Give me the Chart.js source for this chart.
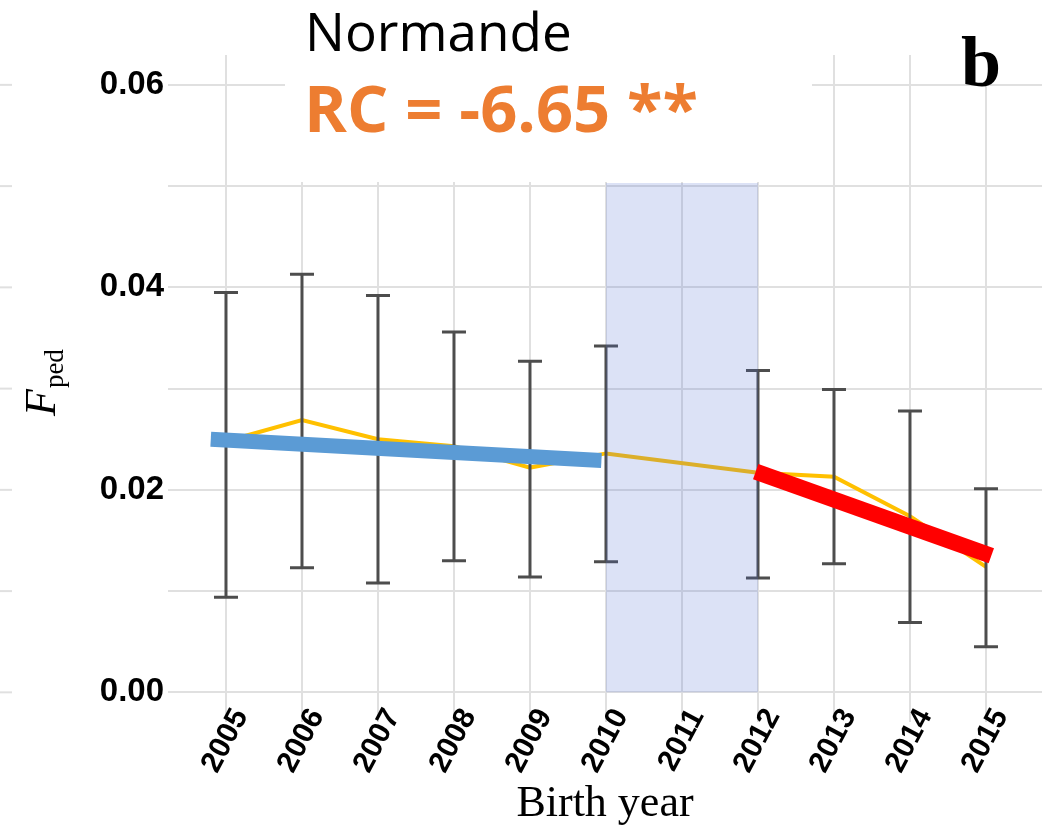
<!DOCTYPE html>
<html>
<head>
<meta charset="utf-8">
<script src="https://cdn.jsdelivr.net/npm/chart.js@4.4.1/dist/chart.umd.min.js"></script>
<style>
  html, body { margin: 0; padding: 0; background: #fff; }
  #wrap { width: 1042px; height: 832px; }
</style>
</head>
<body>
<div id="wrap"><canvas id="chart" width="1042" height="832"></canvas></div>
<script>
// Birth years on the x axis
const years = [2005, 2006, 2007, 2008, 2009, 2010, 2011, 2012, 2013, 2014, 2015];
// Mean pedigree inbreeding per year (2011 has no point of its own)
const fped = [0.0248, 0.0269, 0.0250, 0.0243, 0.0222, 0.0236, null, 0.0217, 0.0213, 0.0174, 0.0124];
// Error bar ends
const upper = [0.0395, 0.0413, 0.0392, 0.0356, 0.0327, 0.0342, null, 0.0318, 0.0299, 0.0278, 0.0201];
const lower = [0.0094, 0.0123, 0.0108, 0.0130, 0.0114, 0.0129, null, 0.0113, 0.0127, 0.0069, 0.0045];
// Trend segments
const blueX = [2004.80, 2009.94];
const blueY = [0.0250, 0.0229];
const redX = [2011.97, 2015.07];
const redY = [0.0218, 0.0135];
// Shaded period
const shadeX = [2010, 2012];
const shadeTop = [0.0503, 0.0503];
// Labelled y ticks
const yTickLabels = ['0.00', '0.02', '0.04', '0.06'];
// Texts
const breedName = 'Normande';
const rcText = 'RC = -6.65 **';
const panelLetter = 'b';
const xTitle = 'Birth year';

const gridColor = '#e0e0e0';

// pairs x/y arrays into points
function toPoints(xs, ys) {
    return xs.map((v, i) => ({ x: v, y: ys[i] }));
}

// vertical grid runs a bit below the plot, under the year labels
const gridTail = {
    id: 'gridTail',
    beforeDraw(chart) {
        const { ctx, chartArea, scales: { x } } = chart;
        ctx.save();
        ctx.strokeStyle = gridColor;
        ctx.lineWidth = 2;
        x.ticks.forEach(t => {
            const px = x.getPixelForValue(t.value);
            ctx.beginPath();
            ctx.moveTo(px, chartArea.bottom); ctx.lineTo(px, 722);
            ctx.stroke();
        });
        ctx.restore();
    }
};

// draws the whiskers right after the yellow line
const errorBars = {
    id: 'errorBars',
    afterDatasetDraw(chart, args) {
        if (args.index !== 0) return;
        const { ctx, scales: { x, y } } = chart;
        ctx.save();
        ctx.strokeStyle = '#4d4d4d';
        ctx.lineWidth = 3;
        years.forEach((yr, i) => {
            if (upper[i] == null) return;
            const px = x.getPixelForValue(yr);
            const top = y.getPixelForValue(upper[i]);
            const bot = y.getPixelForValue(lower[i]);
            ctx.beginPath();
            ctx.moveTo(px, top); ctx.lineTo(px, bot);
            ctx.moveTo(px - 12, top); ctx.lineTo(px + 12, top);
            ctx.moveTo(px - 12, bot); ctx.lineTo(px + 12, bot);
            ctx.stroke();
        });
        ctx.restore();
    }
};

// titles, panel letter, y axis title and the small stubs on the left
const decor = {
    id: 'decor',
    afterDraw(chart) {
        const { ctx, scales: { y } } = chart;
        ctx.save();

        // stubs from the neighbouring panel
        ctx.strokeStyle = gridColor;
        ctx.lineWidth = 2;
        y.ticks.forEach(t => {
            const py = y.getPixelForValue(t.value);
            ctx.beginPath();
            ctx.moveTo(0, py); ctx.lineTo(12, py);
            ctx.stroke();
        });

        // white boxes behind the texts
        ctx.fillStyle = '#fff';
        ctx.fillRect(285, 0, 527, 182);
        ctx.fillRect(950, 0, 60, 83);

        ctx.textBaseline = 'alphabetic';
        ctx.textAlign = 'left';
        ctx.fillStyle = '#000';
        ctx.font = '53px "Open Sans"';
        ctx.fillText(breedName, 305, 51);

        ctx.fillStyle = '#ED7D31';
        ctx.font = 'bold 65px "Open Sans"';
        ctx.fillText(rcText, 304, 132);

        ctx.fillStyle = '#000';
        ctx.font = 'bold 72px "Liberation Serif"';
        ctx.fillText(panelLetter, 961, 86);

        // F_ped, rotated
        ctx.translate(55, 416);
        ctx.rotate(-Math.PI / 2);
        ctx.font = 'italic 44px "Liberation Serif"';
        ctx.fillText('F', 0, 0);
        const w = ctx.measureText('F').width;
        ctx.font = '27px "Liberation Serif"';
        ctx.fillText('ped', w + 1, 8);
        ctx.restore();
    }
};

new Chart(document.getElementById('chart'), {
    type: 'line',
    data: {
        datasets: [
            {
                label: 'Fped',
                data: toPoints(years, fped),
                borderColor: '#FFC000',
                borderWidth: 4,
                pointRadius: 0,
                spanGaps: true,
                tension: 0,
                order: 3
            },
            {
                label: 'shade',
                data: toPoints(shadeX, shadeTop),
                borderWidth: 0,
                backgroundColor: 'rgba(80,110,210,0.2)',
                fill: 'origin',
                pointRadius: 0,
                order: 2
            },
            {
                label: 'trend before',
                data: toPoints(blueX, blueY),
                borderColor: '#5B9BD5',
                borderWidth: 15,
                borderCapStyle: 'butt',
                pointRadius: 0,
                order: 1
            },
            {
                label: 'trend after',
                data: toPoints(redX, redY),
                borderColor: '#FF0000',
                borderWidth: 16,
                borderCapStyle: 'butt',
                pointRadius: 0,
                order: 0
            }
        ]
    },
    options: {
        responsive: false,
        animation: false,
        devicePixelRatio: 1,
        layout: { padding: { top: 55, left: 0, right: 0, bottom: 0 } },
        plugins: { legend: { display: false }, tooltip: { enabled: false } },
        scales: {
            x: {
                type: 'linear',
                min: 2004.237,
                max: 2015.737,
                grid: { color: gridColor, lineWidth: 2, drawTicks: false },
                border: { display: false },
                ticks: {
                    stepSize: 1,
                    includeBounds: false,
                    autoSkip: false,
                    minRotation: 62,
                    maxRotation: 62,
                    padding: 6,
                    labelOffset: 15,
                    color: '#000',
                    font: { family: '"Liberation Sans", Arial', size: 30, weight: 'bold' },
                    callback: v => years.includes(v) ? String(v) : ''
                },
                title: {
                    display: true,
                    text: xTitle,
                    color: '#000',
                    font: { family: '"Liberation Serif"', size: 44 },
                    padding: { top: 0, bottom: 1 }
                },
                afterFit(scale) {
                    scale.height = 135;
                    scale.paddingLeft = 0;
                    scale.paddingRight = 0;
                }
            },
            y: {
                min: -0.00046,
                max: 0.06295,
                grid: { color: gridColor, lineWidth: 2, drawTicks: false },
                border: { display: false },
                ticks: {
                    stepSize: 0.01,
                    includeBounds: false,
                    padding: 4,
                    color: '#000',
                    font: { family: '"Liberation Sans", Arial', size: 33, weight: 'bold' },
                    callback: v => {
                        const s = v.toFixed(2);
                        return yTickLabels.includes(s) ? s : '';
                    }
                },
                afterFit(scale) {
                    scale.width = 168;
                    scale.paddingTop = 0;
                    scale.paddingBottom = 0;
                }
            }
        }
    },
    plugins: [gridTail, errorBars, decor]
});
</script>
</body>
</html>
